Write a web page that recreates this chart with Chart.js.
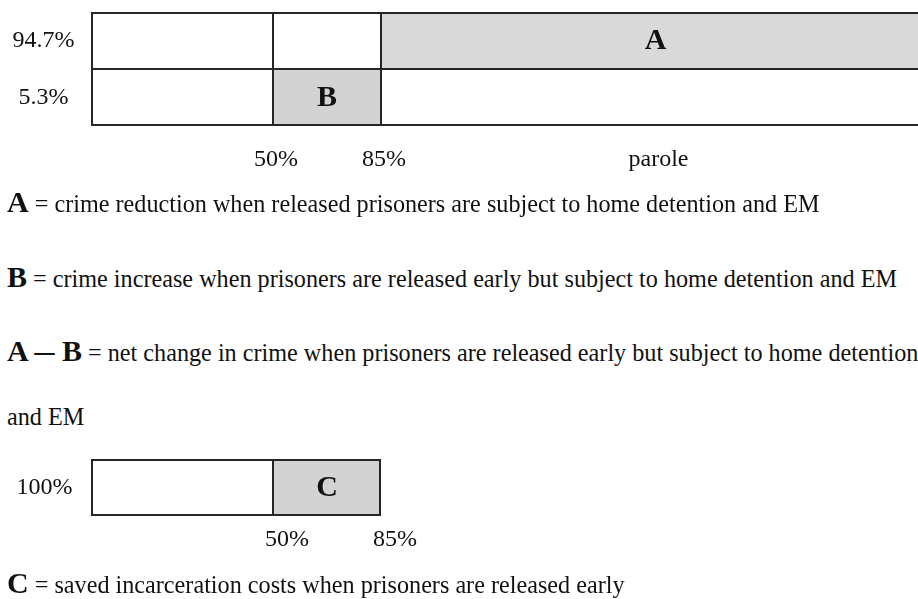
<!DOCTYPE html>
<html><head><meta charset="utf-8">
<script src="https://cdn.jsdelivr.net/npm/chart.js@4.4.1/dist/chart.umd.min.js"></script>
<style>
html,body{margin:0;padding:0;background:#fff;}
body{width:918px;height:599px;overflow:hidden;position:relative;font-family:'Liberation Serif','Times New Roman',serif;color:#111;}
canvas{position:absolute;left:0;}
.ln{position:absolute;left:7px;line-height:0;white-space:nowrap;font-size:24.2px;}
.ln b{font-size:30px;}
.ln .dash{display:inline-block;transform:scaleX(1.33);margin:0 2.5px;}
</style></head><body>
<canvas id="topChart" width="1000" height="190" style="top:0px"></canvas>
<canvas id="botChart" width="1000" height="130" style="top:440px"></canvas>
<div id="legend"></div>
<script>
// ---------- data ----------
const topRows = ['94.7%', '5.3%'];            // share of prisoners
const bottomRows = ['100%'];
const topEdges = [0, 50, 85, 100];             // share of sentence served
const bottomEdges = [0, 50, 85];
const edgeLabels = {50: '50%', 85: '85%'};
const paroleLabel = 'parole';
const topCells = [['', '', 'A'], ['', 'B', '']];   // [row][segment]
const bottomCells = [['', 'C']];
const legendKeys = ['A', 'B', 'A \u2013 B', '', 'C'];
const legendTexts = [
  '= crime reduction when released prisoners are subject to home detention and EM',
  '= crime increase when prisoners are released early but subject to home detention and EM',
  '= net change in crime when prisoners are released early but subject to home detention',
  'and EM',
  '= saved incarceration costs when prisoners are released early'
];

// ---------- styles / layout ----------
const cellColors = {'': '#ffffff', 'A': '#d9d9d9', 'B': '#d3d3d3', 'C': '#d3d3d3'};
const lineColor = '#262626';
const textColor = '#111111';
const FONT = "'Liberation Serif', 'Times New Roman', serif";
const knots = [[0, 0], [50, 0.21693], [85, 0.34565], [100, 1]];
const legendBaselines = [212, 287, 361, 425.5, 593];

// schematic (piecewise-linear) scale
class SchematicScale extends Chart.LinearScale {
  getPixelForValue(v) {
    const k = this.options.knots;
    let i = 0;
    while (i < k.length - 2 && v > k[i + 1][0]) i++;
    const [v0, f0] = k[i], [v1, f1] = k[i + 1];
    const f = f0 + (v - v0) / (v1 - v0) * (f1 - f0);
    return this.left + f * this.width;
  }
  getValueForPixel(p) {
    const k = this.options.knots;
    const f = (p - this.left) / this.width;
    let i = 0;
    while (i < k.length - 2 && f > k[i + 1][1]) i++;
    const [v0, f0] = k[i], [v1, f1] = k[i + 1];
    return v0 + (f - f0) / (f1 - f0) * (v1 - v0);
  }
}
SchematicScale.id = 'schematic';
SchematicScale.defaults = {};
Chart.register(SchematicScale);

function letterPlugin(cells) {
  return {
    id: 'cellLetters',
    afterDatasetsDraw(chart) {
      const ctx = chart.ctx;
      chart.data.datasets.forEach((ds, s) => {
        chart.getDatasetMeta(s).data.forEach((bar, r) => {
          const t = cells[r][s];
          if (!t) return;
          const {x, y, base} = bar.getProps(['x', 'y', 'base'], true);
          ctx.save();
          ctx.font = 'bold 30px ' + FONT;
          ctx.fillStyle = textColor;
          ctx.textAlign = 'center';
          ctx.textBaseline = 'middle';
          ctx.fillText(t, (x + base) / 2, y + 1);
          ctx.restore();
        });
      });
    }
  };
}

function makeChart(id, rows, edges, cells, tickVals, opt) {
  const nSeg = edges.length - 1;
  const datasets = [];
  for (let s = 0; s < nSeg; s++) {
    datasets.push({
      data: rows.map(() => [edges[s], edges[s + 1]]),
      backgroundColor: rows.map((_, r) => cellColors[cells[r][s]]),
      borderColor: lineColor,
      borderSkipped: false,
      borderWidth: (c) => ({
        top: c.dataIndex === 0 ? 2 : 1,
        bottom: c.dataIndex === rows.length - 1 ? 2 : 1,
        left: s === 0 ? 2 : 1,
        right: s === nSeg - 1 ? 2 : 1
      }),
      grouped: false,
      categoryPercentage: 1,
      barPercentage: 1,
      inflateAmount: 0
    });
  }
  const canvas = document.getElementById(id);
  return new Chart(canvas, {
    type: 'bar',
    data: {labels: rows, datasets},
    plugins: [letterPlugin(cells)],
    options: {
      indexAxis: 'y',
      responsive: false,
      animation: false,
      events: [],
      layout: {padding: {top: opt.top, right: 70, left: 0, bottom: 0}},
      plugins: {legend: {display: false}, tooltip: {enabled: false}},
      scales: {
        x: {
          type: 'schematic',
          knots: knots,
          min: 0, max: 100,
          grid: {display: false, drawTicks: false},
          border: {display: false},
          afterBuildTicks: (sc) => { sc.ticks = tickVals.map(v => ({value: v})); },
          afterFit: (sc) => { sc.height = opt.xh; sc.paddingLeft = 0; sc.paddingRight = 0; },
          ticks: {
            autoSkip: false, maxRotation: 0, minRotation: 0,
            padding: opt.xpad,
            labelOffset: opt.lo,
            color: textColor,
            font: {family: FONT, size: 24},
            callback: (v) => edgeLabels[v] !== undefined ? edgeLabels[v] : paroleLabel
          }
        },
        y: {
          type: 'category',
          grid: {display: false, drawTicks: false},
          border: {display: false},
          afterFit: (sc) => { sc.width = 91; sc.paddingTop = 0; sc.paddingBottom = 0; },
          ticks: {
            crossAlign: 'center',
            padding: opt.ypad,
            color: textColor,
            font: {family: FONT, size: 24}
          }
        }
      }
    }
  });
}

const paroleMid = (topEdges[2] + topEdges[3]) / 2;
makeChart('topChart', topRows, topEdges, topCells, [50, 85, paroleMid],
  {top: 12, xh: 190 - 126, xpad: 19.5, lo: 3, ypad: 16.5});
makeChart('botChart', bottomRows, bottomEdges, bottomCells, [50, 85],
  {top: 19, xh: 130 - 76, xpad: 9.3, lo: 14, ypad: 18.5});

// legend text lines
const legend = document.getElementById('legend');
legendKeys.forEach((k, i) => {
  const d = document.createElement('div');
  d.className = 'ln';
  d.style.top = (legendBaselines[i] - (k ? 10.1 : 8.2)) + 'px';
  const key = k.replace('\u2013', '<span class="dash">\u2013</span>');
  d.innerHTML = (k ? '<b>' + key + '</b> ' : '') + legendTexts[i];
  legend.appendChild(d);
});
</script>
</body></html>
